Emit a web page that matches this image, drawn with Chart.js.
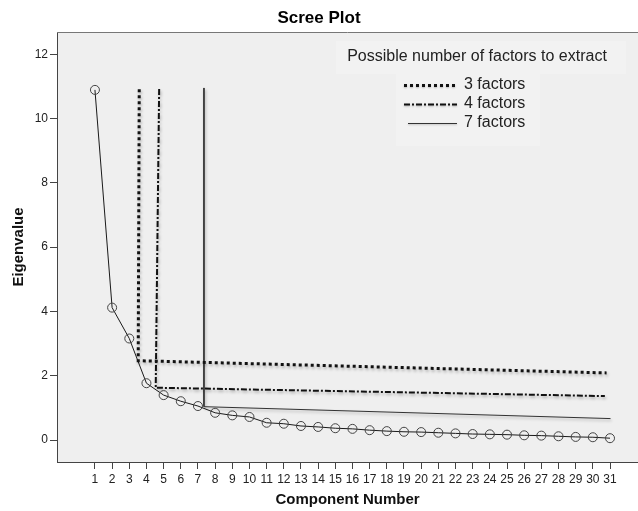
<!DOCTYPE html>
<html>
<head>
<meta charset="utf-8">
<script src="https://cdn.jsdelivr.net/npm/chart.js@4/dist/chart.umd.min.js"></script>
<style>
  html, body { margin: 0; padding: 0; background: #fff; }
</style>
</head>
<body>
<canvas id="scree" width="638" height="511"></canvas>
<script>
const components = [1, 2, 3, 4, 5, 6, 7, 8, 9, 10, 11, 12, 13, 14, 15, 16,
  17, 18, 19, 20, 21, 22, 23, 24, 25, 26, 27, 28, 29, 30, 31];
const eigenvalues = [10.89, 4.12, 3.16, 1.77, 1.40, 1.21, 1.06, 0.85, 0.77, 0.72,
  0.54, 0.51, 0.44, 0.41, 0.37, 0.35, 0.31, 0.28, 0.26, 0.25, 0.23, 0.21, 0.19,
  0.18, 0.17, 0.15, 0.14, 0.12, 0.10, 0.09, 0.06];
const yTicks = [0, 2, 4, 6, 8, 10, 12];

// cut-off lines (hand drawn in the original, so slightly slanted)
const threeX = [3.58, 3.52, 30.80];
const threeY = [10.91, 2.47, 2.09];
const fourX = [4.74, 4.54, 30.70];
const fourY = [10.92, 1.63, 1.37];
const sevenX = [7.35, 7.35, 31.03];
const sevenY = [10.95, 1.04, 0.67];

const legendTitle = 'Possible number of factors to extract';
const FONT = '"Liberation Sans", Arial, sans-serif';

const pts = (xs, ys) => xs.map((x, i) => ({ x, y: ys[i] }));

Chart.defaults.font.family = FONT;

// grey plot background + top frame line
const plotFrame = {
  id: 'plotFrame',
  beforeDraw(chart) {
    const { ctx, chartArea: a } = chart;
    ctx.save();
    ctx.fillStyle = '#efefef';
    ctx.fillRect(a.left, a.top, a.right - a.left, a.bottom - a.top);
    ctx.restore();
  },
  afterDraw(chart) {
    const { ctx, chartArea: a } = chart;
    ctx.save();
    ctx.strokeStyle = '#777';
    ctx.lineWidth = 1;
    ctx.beginPath();
    ctx.moveTo(a.left, a.top + 0.5);
    ctx.lineTo(a.right, a.top + 0.5);
    ctx.stroke();
    ctx.restore();
  },
};

// soft drop shadow under the cut-off lines
const lineShadow = {
  id: 'lineShadow',
  beforeDatasetDraw(chart, args) {
    if (args.index === 0) return;
    const ctx = chart.ctx;
    ctx.save();
    ctx.shadowColor = 'rgba(0,0,0,0.28)';
    ctx.shadowBlur = 3;
    ctx.shadowOffsetX = 1;
    ctx.shadowOffsetY = 2;
  },
  afterDatasetDraw(chart, args) {
    if (args.index === 0) return;
    chart.ctx.restore();
  },
};

// legend box in the top right corner of the plot
const factorLegend = {
  id: 'factorLegend',
  beforeDatasetsDraw(chart) {
    const ctx = chart.ctx;
    ctx.save();
    ctx.fillStyle = '#f2f2f2';
    ctx.fillRect(336, 41, 290, 33);
    ctx.fillRect(396, 74, 144, 72);
    ctx.restore();
  },
  afterDraw(chart) {
    const ctx = chart.ctx;
    ctx.save();
    ctx.font = '16px ' + FONT;
    ctx.fillStyle = '#222';
    ctx.textBaseline = 'middle';
    ctx.textAlign = 'center';
    ctx.fillText(legendTitle, 477, 57);
    ctx.textAlign = 'left';
    chart.data.datasets.slice(1).forEach((ds, i) => {
      const y = 85 + i * 19;
      ctx.save();
      ctx.shadowColor = 'rgba(0,0,0,0.25)';
      ctx.shadowBlur = 2;
      ctx.shadowOffsetY = 1;
      ctx.setLineDash(ds.borderDash || []);
      ctx.lineWidth = ds.borderWidth;
      ctx.strokeStyle = ds.borderColor;
      ctx.beginPath();
      ctx.moveTo(i === 2 ? 408 : 404, y + 0.5);
      ctx.lineTo(457, y + 0.5);
      ctx.stroke();
      ctx.restore();
      ctx.fillText(ds.label, 464, y);
    });
    ctx.restore();
  },
};

new Chart(document.getElementById('scree'), {
  type: 'line',
  data: {
    datasets: [
      {
        label: 'Eigenvalue',
        data: pts(components, eigenvalues),
        borderColor: '#1a1a1a',
        borderWidth: 1,
        pointRadius: 4.5,
        pointBorderColor: '#444',
        pointBorderWidth: 1,
        pointBackgroundColor: 'rgba(0,0,0,0)',
        tension: 0,
      },
      {
        label: '3 factors',
        data: pts(threeX, threeY),
        borderColor: '#111',
        borderWidth: 3,
        borderDash: [3, 3],
        pointRadius: 0,
        tension: 0,
      },
      {
        label: '4 factors',
        data: pts(fourX, fourY),
        borderColor: '#111',
        borderWidth: 2,
        borderDash: [6, 2, 2, 2],
        pointRadius: 0,
        tension: 0,
      },
      {
        label: '7 factors',
        data: pts(sevenX, sevenY),
        borderColor: '#333',
        borderWidth: 1,
        pointRadius: 0,
        tension: 0,
      },
    ],
  },
  options: {
    responsive: false,
    animation: false,
    devicePixelRatio: 1,
    layout: { padding: 0, autoPadding: false },
    plugins: {
      legend: { display: false },
      tooltip: { enabled: false },
      title: {
        display: true,
        text: 'Scree Plot',
        color: '#000',
        font: { size: 17, weight: 'bold' },
        padding: { top: 8, bottom: 3.6 },
      },
    },
    scales: {
      x: {
        type: 'linear',
        min: -1.21, max: 32.63,
        afterBuildTicks: s => { s.ticks = components.map(v => ({ value: v })); },
        afterFit: s => { s.height = 49; s.paddingLeft = 0; s.paddingRight = 0; },
        grid: { drawOnChartArea: false, tickLength: 7, color: '#444' },
        border: { color: '#444' },
        ticks: { color: '#222', font: { size: 12 }, padding: 3, maxRotation: 0, autoSkip: false },
        title: {
          display: true,
          text: 'Component Number',
          color: '#111',
          font: { size: 15, weight: 'bold' },
          padding: { top: 0, bottom: 2 },
        },
      },
      y: {
        type: 'linear',
        min: -0.68, max: 12.69,
        afterBuildTicks: s => { s.ticks = yTicks.map(v => ({ value: v })); },
        afterFit: s => { s.width = 57; s.paddingTop = 0; s.paddingBottom = 0; },
        grid: { drawOnChartArea: false, tickLength: 7, color: '#444' },
        border: { color: '#444' },
        ticks: { color: '#222', font: { size: 12 }, padding: 2 },
        title: {
          display: true,
          text: 'Eigenvalue',
          color: '#111',
          font: { size: 15, weight: 'bold' },
          padding: { top: 10, bottom: 0 },
        },
      },
    },
  },
  plugins: [plotFrame, lineShadow, factorLegend],
});
</script>
</body>
</html>
